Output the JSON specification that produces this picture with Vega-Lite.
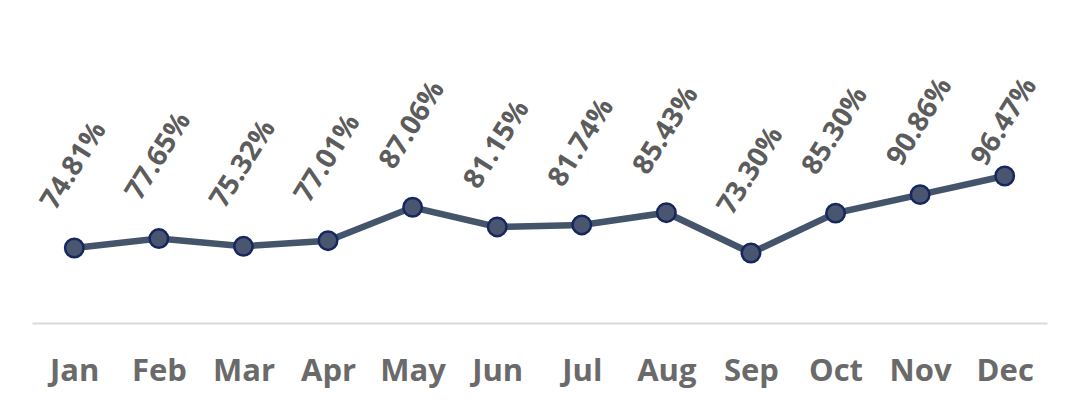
{
  "$schema": "https://vega.github.io/schema/vega-lite/v6.json",
  "autosize": {"type": "none"},
  "padding": {"left": 32, "top": 10, "right": 33, "bottom": 97},
  "width": 1015,
  "height": 313,
  "background": "white",
  "config": {"view": {"stroke": null}},
  "data": {"values": [
    {"month": "Jan", "value": 0.7481},
    {"month": "Feb", "value": 0.7765},
    {"month": "Mar", "value": 0.7532},
    {"month": "Apr", "value": 0.7701},
    {"month": "May", "value": 0.8706},
    {"month": "Jun", "value": 0.8115},
    {"month": "Jul", "value": 0.8174},
    {"month": "Aug", "value": 0.8543},
    {"month": "Sep", "value": 0.7330},
    {"month": "Oct", "value": 0.8530},
    {"month": "Nov", "value": 0.9086},
    {"month": "Dec", "value": 0.9647}
  ]},
  "encoding": {
    "x": {
      "field": "month", "type": "ordinal", "sort": null,
      "scale": {"type": "point", "padding": 0.5},
      "axis": {
        "title": null, "labelAngle": 0, "ticks": false, "grid": false,
        "domainColor": "#d9d9d9", "domainWidth": 2,
        "labelFont": "Open Sans", "labelFontWeight": "bold", "labelFontSize": 31,
        "labelColor": "#6a6a6a", "labelPadding": 33
      }
    }
  },
  "layer": [
    {
      "mark": {"type": "line", "color": "#44546a", "strokeWidth": 6.5},
      "encoding": {
        "y": {"field": "value", "type": "quantitative", "axis": null,
              "scale": {"domain": [0.5225, 1.464], "zero": false, "nice": false}}
      }
    },
    {
      "mark": {"type": "point", "filled": true, "fill": "#4a5570", "stroke": "#15275e", "strokeWidth": 2.5, "size": 340, "opacity": 1},
      "encoding": {
        "y": {"field": "value", "type": "quantitative", "axis": null,
              "scale": {"domain": [0.5225, 1.464], "zero": false, "nice": false}}
      }
    },
    {
      "mark": {"type": "text", "angle": -58, "align": "center", "baseline": "middle",
               "font": "Open Sans", "fontWeight": "bold", "fontSize": 28, "color": "#5c5c5c"},
      "encoding": {
        "y": {"field": "value", "type": "quantitative", "axis": null,
              "scale": {"domain": [0.2758, 0.8805], "range": [313, 112], "zero": false, "nice": false, "clamp": true}},
        "text": {"field": "value", "type": "quantitative", "format": ".2%"}
      }
    }
  ],
  "resolve": {"scale": {"y": "independent"}}
}
